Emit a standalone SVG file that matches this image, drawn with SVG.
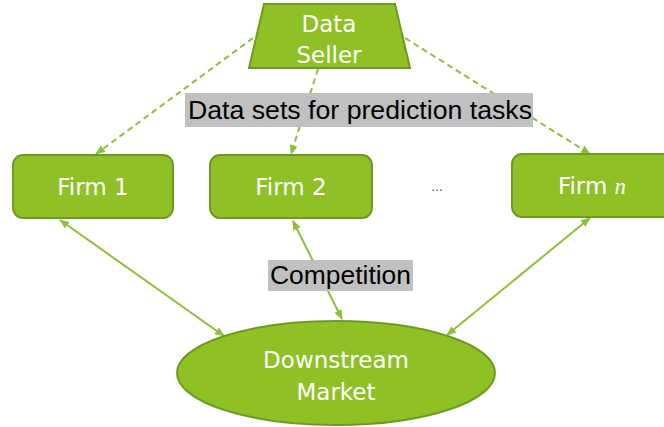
<svg xmlns="http://www.w3.org/2000/svg" width="664" height="427" viewBox="0 0 664 427">
  <defs>
    <marker id="tip" viewBox="0 0 10 10" refX="9" refY="5" markerWidth="10" markerHeight="10" markerUnits="userSpaceOnUse" orient="auto-start-reverse">
      <path d="M0,1 L10,5 L0,9 Z" fill="#8DC03A"/>
    </marker>
  </defs>
  <style>
    .shape { fill: #8FC126; stroke: #6F9A22; stroke-width: 2; }
    .nodetext { font-family: "DejaVu Sans", Verdana, sans-serif; font-size: 23px; fill: #FFFFFF; text-anchor: middle; }
    .dash { stroke: #8DC03A; stroke-width: 2; stroke-dasharray: 6 4; fill: none; }
    .solid { stroke: #8DC03A; stroke-width: 2; fill: none; }
    .label { font-family: "Liberation Sans", Arial, sans-serif; fill: #000000; }
    .labelbg { fill: #C0C0C0; }
  </style>
  <rect width="664" height="427" fill="#FFFFFF"/>

  <!-- connectors -->
  <g id="connectors">
    <line class="dash" x1="253" y1="38" x2="96" y2="154" marker-end="url(#tip)"/>
    <line class="dash" x1="318" y1="69" x2="291" y2="154" marker-end="url(#tip)"/>
    <line class="dash" x1="405" y1="38" x2="590" y2="154" marker-end="url(#tip)"/>
    <line class="solid" x1="60" y1="220" x2="224" y2="336" marker-start="url(#tip)" marker-end="url(#tip)"/>
    <line class="solid" x1="293" y1="221" x2="342" y2="319" marker-start="url(#tip)" marker-end="url(#tip)"/>
    <line class="solid" x1="590" y1="218" x2="447" y2="335" marker-start="url(#tip)" marker-end="url(#tip)"/>
  </g>

  <!-- data seller -->
  <g id="seller">
    <polygon class="shape" points="264,4 395,4 410,68 249,68"/>
    <text class="nodetext" x="329" y="32">Data</text>
    <text class="nodetext" x="329" y="63">Seller</text>
  </g>

  <!-- firms -->
  <g id="firm1">
    <rect class="shape" x="13" y="155" width="160" height="63" rx="10"/>
    <text class="nodetext" x="93" y="195">Firm 1</text>
  </g>
  <g id="firm2">
    <rect class="shape" x="210" y="155" width="162" height="63" rx="10"/>
    <text class="nodetext" x="291" y="195">Firm 2</text>
  </g>
  <g id="firmn">
    <rect class="shape" x="512" y="154" width="165" height="63" rx="10"/>
    <text class="nodetext" x="592" y="194">Firm <tspan font-family="'Liberation Serif', 'DejaVu Serif', serif" font-style="italic">n</tspan></text>
  </g>
  <g id="ellipsis">
    <text x="437" y="191" font-family="'Liberation Sans', Arial, sans-serif" font-size="12" fill="#333333" text-anchor="middle">…</text>
  </g>

  <!-- downstream market -->
  <g id="market">
    <ellipse class="shape" cx="336" cy="373" rx="159" ry="52"/>
    <text class="nodetext" x="336" y="368">Downstream</text>
    <text class="nodetext" x="336" y="400">Market</text>
  </g>

  <!-- labels -->
  <g id="label-datasets">
    <rect class="labelbg" x="185" y="93" width="348" height="34"/>
    <text class="label" x="188" y="119" font-size="26" textLength="344" lengthAdjust="spacingAndGlyphs">Data sets for prediction tasks</text>
  </g>
  <g id="label-competition">
    <rect class="labelbg" x="268" y="260" width="145" height="31"/>
    <text class="label" x="270" y="284" font-size="26" textLength="141" lengthAdjust="spacingAndGlyphs">Competition</text>
  </g>
</svg>
